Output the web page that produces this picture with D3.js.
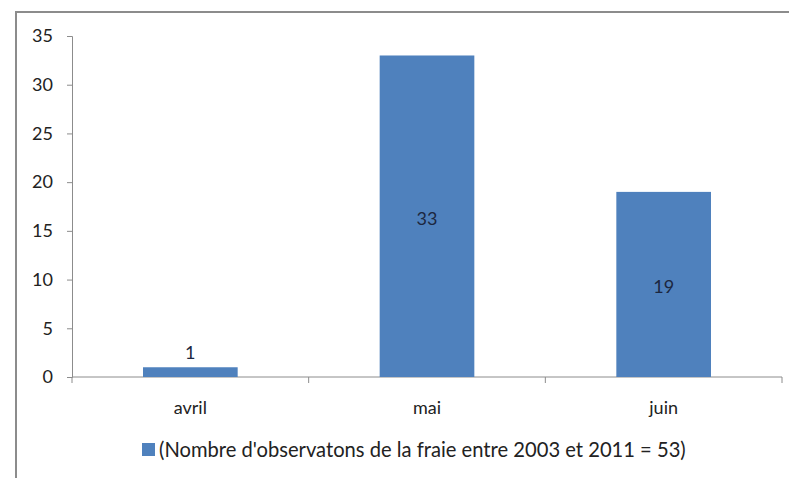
<!DOCTYPE html>
<html>
<head>
<meta charset="utf-8">
<script src="https://d3js.org/d3.v7.min.js"></script>
<style>
  body { margin: 0; background: #fff; }
  text { font-family: Lato, "Open Sans", sans-serif; fill: #222; }
</style>
</head>
<body>
<script>
// données
const months = ['avril', 'mai', 'juin'];
const counts = [1, 33, 19];
const yTicks = [0, 5, 10, 15, 20, 25, 30, 35];
const legendLabel = "(Nombre d'observatons de la fraie entre 2003 et 2011 = 53)";

const width = 789, height = 478;
const margin = {top: 36, right: 7, bottom: 101, left: 72};

const svg = d3.select('body').append('svg')
    .attr('width', width).attr('height', height);

// cadre du graphique (coupé à droite et en bas)
svg.append('path')
    .attr('d', `M16,${height + 2} V12 H${width + 2}`)
    .attr('fill', 'none').attr('stroke', '#8c8c8c').attr('stroke-width', 2);

const x = d3.scaleBand(months, [margin.left, width - margin.right]).paddingInner(0.6).paddingOuter(0.3);
const xb = d3.scaleBand(months, [margin.left, width - margin.right]);
const y = d3.scaleLinear([0, 35], [height - margin.bottom, margin.top]);

// axe y
const yAxis = svg.append('g')
    .attr('transform', `translate(${margin.left},0)`)
    .call(d3.axisLeft(y).tickValues(yTicks).tickSize(5).tickPadding(14));
yAxis.select('.domain').attr('stroke', '#8c8c8c');
yAxis.selectAll('line').attr('stroke', '#8c8c8c');
yAxis.selectAll('text').attr('font-size', 18).attr('fill', '#222');

// axe x avec graduations entre les catégories
const xAxis = svg.append('g').attr('transform', `translate(0,${y(0)})`);
xAxis.append('line')
    .attr('x1', margin.left).attr('x2', width - margin.right)
    .attr('stroke', '#8c8c8c');
const bounds = months.map(m => xb(m)).concat([width - margin.right]);
xAxis.selectAll('line.tick').data(bounds).join('line')
    .attr('class', 'tick')
    .attr('x1', d => d).attr('x2', d => d)
    .attr('y1', 0).attr('y2', 6)
    .attr('stroke', '#8c8c8c');
xAxis.selectAll('text').data(months).join('text')
    .attr('x', d => xb(d) + xb.bandwidth() / 2)
    .attr('y', 37)
    .attr('text-anchor', 'middle')
    .attr('font-size', 18)
    .text(d => d);

// barres
svg.append('g').selectAll('rect').data(counts).join('rect')
    .attr('x', (d, i) => x(months[i]))
    .attr('y', d => y(d))
    .attr('width', x.bandwidth())
    .attr('height', d => y(0) - y(d))
    .attr('fill', '#4f81bd');

// étiquettes de valeurs
svg.append('g').selectAll('text').data(counts).join('text')
    .attr('x', (d, i) => x(months[i]) + x.bandwidth() / 2)
    .attr('y', d => d < 5 ? y(d) - 8 : (y(d) + y(0)) / 2 + 2)
    .attr('dy', d => d < 5 ? 0 : '0.35em')
    .attr('text-anchor', 'middle')
    .attr('font-size', 18)
    .style('fill', '#1c2740')
    .text(d => d);

// légende
const legend = svg.append('g').attr('transform', 'translate(142,443)');
legend.append('rect').attr('width', 13).attr('height', 13).attr('fill', '#4f81bd');
const lt = legend.append('text')
    .attr('x', 17).attr('y', 7).attr('dy', '0.35em')
    .attr('font-size', 18)
    .text(legendLabel);
// ajuster la taille pour que le texte finisse vers x=686
const len = lt.node().getComputedTextLength();
lt.attr('font-size', 18 * (686 - 159) / len);
</script>
</body>
</html>
